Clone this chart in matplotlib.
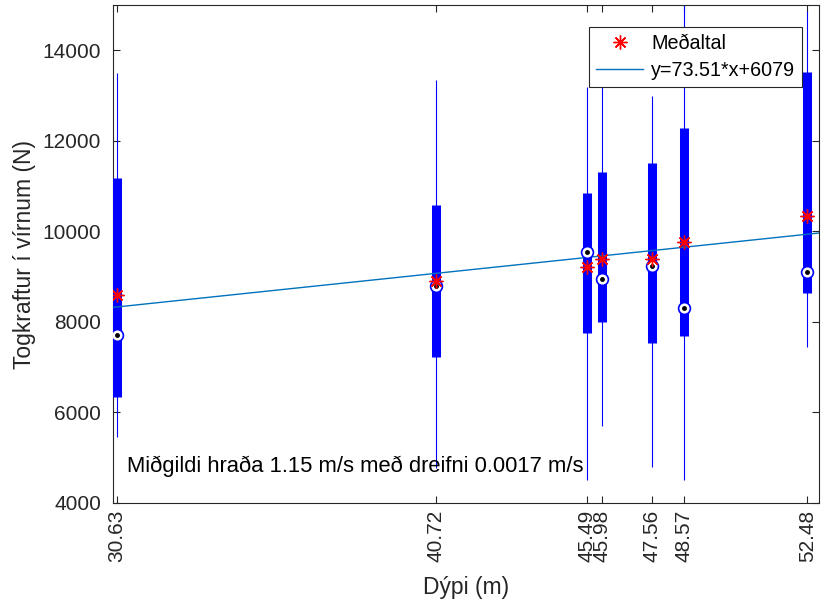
import matplotlib
matplotlib.use("Agg")
import matplotlib.pyplot as plt

plt.rcParams['font.family'] = ['Liberation Sans', 'DejaVu Sans']

# depth of each measurement (m)
depth = [30.63, 40.72, 45.49, 45.98, 47.56, 48.57, 52.48]
# box statistics of the tension (N)
whisk_lo = [5460, 4780, 4510, 5690, 4800, 4510, 7440]
q1 = [6350, 7220, 7750, 7990, 7530, 7680, 8630]
median = [7720, 8790, 9540, 8950, 9240, 8300, 9100]
q3 = [11180, 10590, 10850, 11320, 11500, 12290, 13510]
whisk_hi = [13490, 13340, 13200, 13900, 13000, 15200, 14870]
mean = [8590, 8900, 9210, 9390, 9390, 9770, 10340]

slope = 73.51
intercept = 6079
fit_label = 'y=73.51*x+6079'
note = 'Miðgildi hraða 1.15 m/s með dreifni 0.0017 m/s'

fig = plt.figure(figsize=(8.21, 6.05), dpi=100)
ax = fig.add_axes([0.1376, 0.1686, 0.8600, 0.8231])

xlim = (30.5, 52.85)

# whiskers and boxes (compact MATLAB style)
ax.vlines(depth, whisk_lo, whisk_hi, colors='blue', linewidth=0.8, zorder=2)
ax.vlines(depth, q1, q3, colors='blue', linewidth=6.5, zorder=3)

# regression line
fx = [xlim[0], xlim[1]]
fy = [slope * v + intercept for v in fx]
line, = ax.plot(fx, fy, color='#0072BD', linewidth=1.0, zorder=4, label=fit_label)

# medians: white circle with a black dot
ax.plot(depth, median, linestyle='none', marker='o', markersize=8.5,
        markerfacecolor='white', markeredgecolor='blue', markeredgewidth=1.2, zorder=5)
ax.plot(depth, median, linestyle='none', marker='o', markersize=2.5,
        color='black', zorder=6)

# means
star, = ax.plot(depth, mean, linestyle='none', marker=(8, 2, 0), markersize=10,
                markeredgecolor='red', markeredgewidth=1.0, color='red', zorder=7,
                label='Meðaltal')

ax.text(30.94, 4820, note, fontsize=15.85, va='center', ha='left')

ax.set_xlim(*xlim)
ax.set_ylim(4000, 15000)
ax.set_xticks(depth)
ax.set_xticklabels(['%.2f' % d for d in depth], rotation=90)
ax.set_yticks([4000, 6000, 8000, 10000, 12000, 14000])
ax.tick_params(axis='both', direction='in', labelsize=15, color='#262626',
               labelcolor='#262626', right=True, top=True, length=5)
ax.tick_params(axis='x', pad=5)
ax.tick_params(axis='y', pad=8.5)
for s in ax.spines.values():
    s.set_color('#262626')
    s.set_linewidth(0.8)

ax.set_xlabel('Dýpi (m)', fontsize=16.5, color='#262626', labelpad=10)
ax.set_ylabel('Togkraftur í vírnum (N)', fontsize=16.5, color='#262626', labelpad=5)

leg = ax.legend(handles=[star, line], loc='upper right',
                bbox_to_anchor=(802 / 821, 1 - 27 / 605), bbox_transform=fig.transFigure,
                fontsize=14.2, fancybox=False, framealpha=1, edgecolor='#262626',
                handlelength=2.4, handletextpad=0.4, borderpad=0.35, labelspacing=0.4,
                borderaxespad=0)
leg.get_frame().set_linewidth(0.8)
leg.set_zorder(10)

fig.savefig('out.png', dpi=100)
